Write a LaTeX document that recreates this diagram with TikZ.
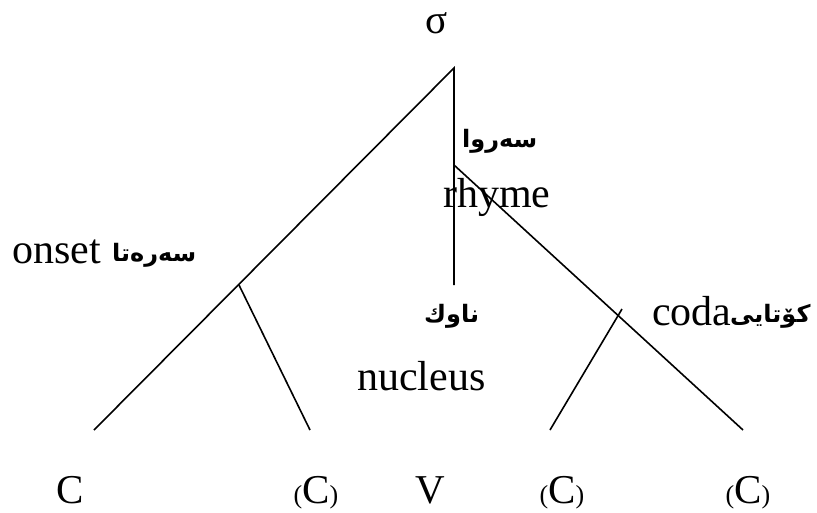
\documentclass[tikz,border=0pt]{standalone}
\usepackage{fontspec}
\setmainfont{Liberation Serif}
\newfontfamily\arabicfont[Script=Arabic]{DejaVu Sans}
\TeXXeTstate=1
\newcommand\smallparen[1]{{\fontsize{26}{26}\selectfont #1}}
\begin{document}
\begin{tikzpicture}[x=1pt,y=-1pt,
  lab/.style={inner sep=0pt,font=\fontsize{42}{42}\selectfont,anchor=base west},
  ku/.style={inner sep=0pt,font=\arabicfont\bfseries\fontsize{24}{24}\selectfont,anchor=base west},
  leaf/.style={inner sep=0pt,font=\fontsize{41}{41}\selectfont,anchor=base},
  br/.style={line width=1.6pt}]
\useasboundingbox (0,0) rectangle (817,512);
% nodes
\node[leaf] (sigma) at (437,33) {σ};
\node[lab] (rhyme) at (443,207) {rhyme};
\node[ku] (rhymeku) at (462,147) {\beginR سەروا\endR};
\node[lab] (onset) at (12,263) {onset};
\node[ku] (onsetku) at (112,261) {\beginR سەرەتا\endR};
\node[lab] (nucleus) at (357,390) {nucleus};
\node[ku] (nucleusku) at (424,322) {\beginR ناوك\endR};
\node[lab] (coda) at (652,325) {coda};
\node[ku] (codaku) at (730,322) {\beginR كۆتايى\endR};
\node[leaf] (c1) at (70,503) {C};
\node[leaf] (c2) at (316,503) {\smallparen{(}C\smallparen{)}};
\node[leaf] (v) at (430,503) {V};
\node[leaf] (c3) at (562,503) {\smallparen{(}C\smallparen{)}};
\node[leaf] (c4) at (748,503) {\smallparen{(}C\smallparen{)}};
% coordinates
\coordinate (apex) at (454,68);
\coordinate (lend) at (94,430);
\coordinate (vend) at (454,285);
\coordinate (rstart) at (454,165);
\coordinate (rend) at (743,430);
\coordinate (ostart) at (239,285);
\coordinate (oend) at (310,430);
\coordinate (cstart) at (622,309);
\coordinate (cend) at (550,430);
% branches
\draw[br] (lend) -- (apex) -- (vend);
\draw[br] (rstart) -- (rend);
\draw[br] (ostart) -- (oend);
\draw[br] (cstart) -- (cend);
\end{tikzpicture}
\end{document}
